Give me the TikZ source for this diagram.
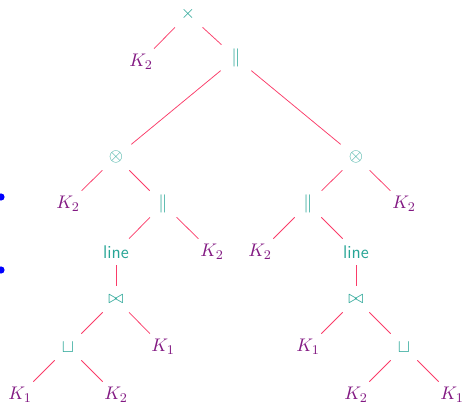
\documentclass[tikz,border=0pt]{standalone}
\usepackage{amsmath,amssymb}
\definecolor{opc}{RGB}{40,165,150}
\definecolor{edc}{RGB}{250,60,105}
\definecolor{kc}{RGB}{130,25,130}
\begin{document}
\begin{tikzpicture}[x=0.6pt,y=-0.6pt,
  every node/.style={font=\fontsize{11}{13}\selectfont},
  tn/.style={rectangle,inner sep=0pt,minimum width=18pt,minimum height=15.6pt},
  op/.style={tn,text=opc},
  kk/.style={tn,text=kc},
  ed/.style={draw=edc,line width=0.45pt}]
\useasboundingbox (0,0) rectangle (462,403);
\fill[blue] (1,197) circle (3.6);
\fill[blue] (1,270) circle (3.6);
% nodes
\node[op] (root) at (188,14) {$\times$};
\node[kk] (k0) at (141,62) {$K_2$};
\node[op] (p0) at (236,58) {$\parallel$};
\node[op] (oL) at (116,157) {$\otimes$};
\node[op] (oR) at (356,157) {$\otimes$};
\node[kk] (kL1) at (68,204) {$K_2$};
\node[op] (pL) at (163,204) {$\parallel$};
\node[op] (pR) at (308,204) {$\parallel$};
\node[kk] (kR1) at (404,204) {$K_2$};
\node[op] (lL) at (116,252) {\sffamily line};
\node[kk] (kL2) at (212,252) {$K_2$};
\node[kk] (kR2) at (260,252) {$K_2$};
\node[op] (lR) at (356,252) {\sffamily line};
\node[op] (bL) at (116,299) {$\bowtie$};
\node[op] (bR) at (356,299) {$\bowtie$};
\node[op] (sL) at (68,347) {$\sqcup$};
\node[kk] (kL3) at (163,347) {$K_1$};
\node[kk] (kR3) at (308,347) {$K_1$};
\node[op] (sR) at (404,347) {$\sqcup$};
\node[kk] (kL4) at (20,395) {$K_1$};
\node[kk] (kL5) at (116,395) {$K_2$};
\node[kk] (kR5) at (356,395) {$K_2$};
\node[kk] (kR4) at (452,395) {$K_1$};
% edges
\draw[ed] (root) -- (k0);
\draw[ed] (root) -- (p0);
\draw[ed] (p0) -- (oL);
\draw[ed] (p0) -- (oR);
\draw[ed] (oL) -- (kL1);
\draw[ed] (oL) -- (pL);
\draw[ed] (oR) -- (pR);
\draw[ed] (oR) -- (kR1);
\draw[ed] (pL) -- (lL);
\draw[ed] (pL) -- (kL2);
\draw[ed] (pR) -- (kR2);
\draw[ed] (pR) -- (lR);
\draw[ed] (lL) -- (bL);
\draw[ed] (lR) -- (bR);
\draw[ed] (bL) -- (sL);
\draw[ed] (bL) -- (kL3);
\draw[ed] (bR) -- (kR3);
\draw[ed] (bR) -- (sR);
\draw[ed] (sL) -- (kL4);
\draw[ed] (sL) -- (kL5);
\draw[ed] (sR) -- (kR5);
\draw[ed] (sR) -- (kR4);
\end{tikzpicture}
\end{document}
